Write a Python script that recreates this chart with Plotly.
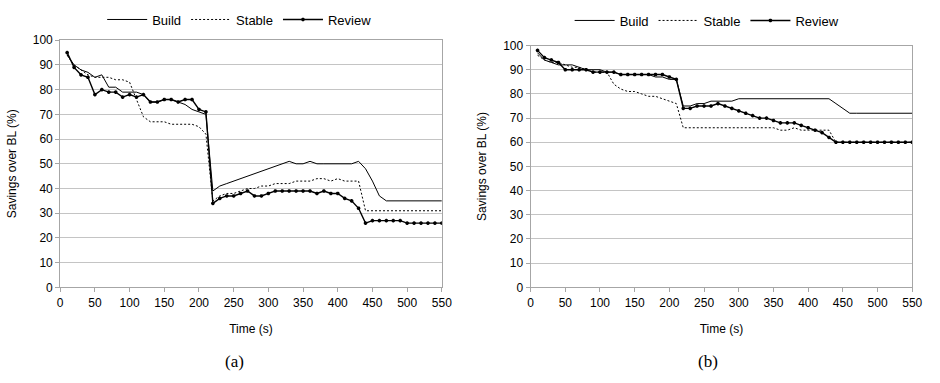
import plotly.graph_objects as go

time_s = [10, 20, 30, 40, 50, 60, 70, 80, 90, 100, 110, 120, 130, 140, 150, 160, 170, 180, 190, 200,
          210, 220, 230, 240, 250, 260, 270, 280, 290, 300, 310, 320, 330, 340, 350, 360, 370, 380, 390, 400,
          410, 420, 430, 440, 450, 460, 470, 480, 490, 500, 510, 520, 530, 540, 550]

# (a)
build_a = [94, 90, 88, 87, 85, 86, 81, 81, 79, 79, 79, 78, 75, 75, 76, 76, 75, 74, 72, 71, 70,
           39, 41, 42, 43, 44, 45, 46, 47, 48, 49, 50, 51,
           50, 50, 51, 50, 50, 50, 50, 50, 50, 51,
           48, 43, 37, 35, 35, 35, 35, 35, 35, 35, 35, 35]
stable_a = [94, 90, 88, 86, 85, 85, 85, 84, 84, 83, 76, 69, 67, 67, 67, 66, 66, 66, 66, 65, 62,
            35, 37, 38, 38, 39, 40, 40, 41, 41, 42, 42, 42, 43, 43, 43, 44, 44, 43, 44, 43, 43, 43,
            31, 31, 31, 31, 31, 31, 31, 31, 31, 31, 31, 31]
review_a = [95, 89, 86, 85, 78, 80, 79, 79, 77, 78, 77, 78, 75, 75, 76, 76, 75, 76, 76, 72, 71,
            34, 36, 37, 37, 38, 39, 37, 37, 38, 39, 39, 39, 39, 39, 39, 38, 39, 38, 38, 36, 35, 32,
            26, 27, 27, 27, 27, 27, 26, 26, 26, 26, 26, 26]

# (b)
build_b = [97, 94, 93, 92, 92, 92, 91, 90, 90, 90, 89, 89, 88, 88, 88, 88, 88, 87, 87, 86, 86,
           75, 75, 76, 76, 77, 77, 77, 77,
           78, 78, 78, 78, 78, 78, 78, 78, 78, 78, 78, 78, 78, 78,
           76, 74, 72, 72, 72, 72, 72, 72, 72, 72, 72, 72]
stable_b = [96, 94, 93, 93, 92, 91, 91, 90, 89, 89, 89, 84, 82, 81, 81, 80, 79, 79, 78, 77, 76,
            66, 66, 66, 66, 66, 66, 66, 66, 66, 66, 66, 66, 66, 66,
            65, 65, 66, 65, 65, 65, 65, 65,
            60, 60, 60, 60, 60, 60, 60, 60, 60, 60, 60, 60]
review_b = [98, 95, 94, 93, 90, 90, 90, 90, 89, 89, 89, 89, 88, 88, 88, 88, 88, 88, 88, 87, 86,
            74, 74, 75, 75, 75, 76, 75, 74, 73, 72, 71, 70, 70, 69, 68, 68, 68, 67, 66, 65, 64, 62,
            60, 60, 60, 60, 60, 60, 60, 60, 60, 60, 60, 60]

series_names = ["Build", "Stable", "Review"]
x_ticks = [0, 50, 100, 150, 200, 250, 300, 350, 400, 450, 500, 550]
y_ticks = [0, 10, 20, 30, 40, 50, 60, 70, 80, 90, 100]
captions = ["(a)", "(b)"]

FONT = "Liberation Sans"
fig = go.Figure()

panels = [
    (build_a, stable_a, review_a, "x", "y", "legend"),
    (build_b, stable_b, review_b, "x2", "y2", "legend2"),
]
for b, s, r, xa, ya, lg in panels:
    fig.add_trace(go.Scatter(x=time_s, y=b, name=series_names[0], mode="lines",
                             line=dict(color="black", width=1), xaxis=xa, yaxis=ya, legend=lg))
    fig.add_trace(go.Scatter(x=time_s, y=s, name=series_names[1], mode="lines",
                             line=dict(color="black", width=1, dash="2px,2px"), xaxis=xa, yaxis=ya, legend=lg))
    fig.add_trace(go.Scatter(x=time_s, y=r, name=series_names[2], mode="lines+markers",
                             line=dict(color="black", width=1.4),
                             marker=dict(symbol="asterisk-open", size=3, color="black",
                                         line=dict(color="black", width=1.2)),
                             xaxis=xa, yaxis=ya, legend=lg))

axis_common = dict(showline=True, linecolor="#a6a6a6", linewidth=1, mirror=True,
                   ticks="outside", ticklen=4, tickcolor="#a6a6a6",
                   tickfont=dict(family=FONT, size=12, color="black"), zeroline=False)

H = 383.0
bottom = (H - 291) / H
fig.update_layout(
    width=940, height=383,
    margin=dict(l=0, r=0, t=0, b=0),
    paper_bgcolor="white", plot_bgcolor="white",
    font=dict(family=FONT, size=12, color="black"),
    xaxis=dict(domain=[58 / 940, 445 / 940], range=[0, 550], tickvals=x_ticks, showgrid=False,
               anchor="y", title=dict(text="Time (s)", font=dict(size=12), standoff=15), **axis_common),
    yaxis=dict(domain=[bottom, (H - 34.5) / H], range=[0, 100], tickvals=y_ticks,
               showgrid=True, gridcolor="#c4c4c4", gridwidth=1, anchor="x",
               title=dict(text="Savings over BL (%)", font=dict(size=12), standoff=13), **axis_common),
    xaxis2=dict(domain=[535 / 940, 922 / 940], range=[0, 550], tickvals=x_ticks, showgrid=False,
                anchor="y2", title=dict(text="Time (s)", font=dict(size=12), standoff=15), **axis_common),
    yaxis2=dict(domain=[bottom, (H - 40) / H], range=[0, 100], tickvals=y_ticks,
                showgrid=True, gridcolor="#c4c4c4", gridwidth=1, anchor="x2",
                title=dict(text="Savings over BL (%)", font=dict(size=12), standoff=13), **axis_common),
    legend=dict(orientation="h", x=240 / 940, xanchor="center", y=(H - 13) / H, yanchor="middle",
                font=dict(family=FONT, size=13, color="black"), bgcolor="rgba(0,0,0,0)",
                itemwidth=40, tracegroupgap=0),
    legend2=dict(orientation="h", x=714 / 940, xanchor="center", y=(H - 14) / H, yanchor="middle",
                 font=dict(family=FONT, size=13, color="black"), bgcolor="rgba(0,0,0,0)",
                 itemwidth=40, tracegroupgap=0),
    showlegend=True,
)

for cap, cx in zip(captions, [235, 715]):
    fig.add_annotation(text=cap, x=cx / 940, y=(H - 368) / H, xref="paper", yref="paper",
                       xanchor="center", yanchor="middle", showarrow=False,
                       font=dict(family="Liberation Serif", size=17, color="black"))

fig.write_html("out.html")
